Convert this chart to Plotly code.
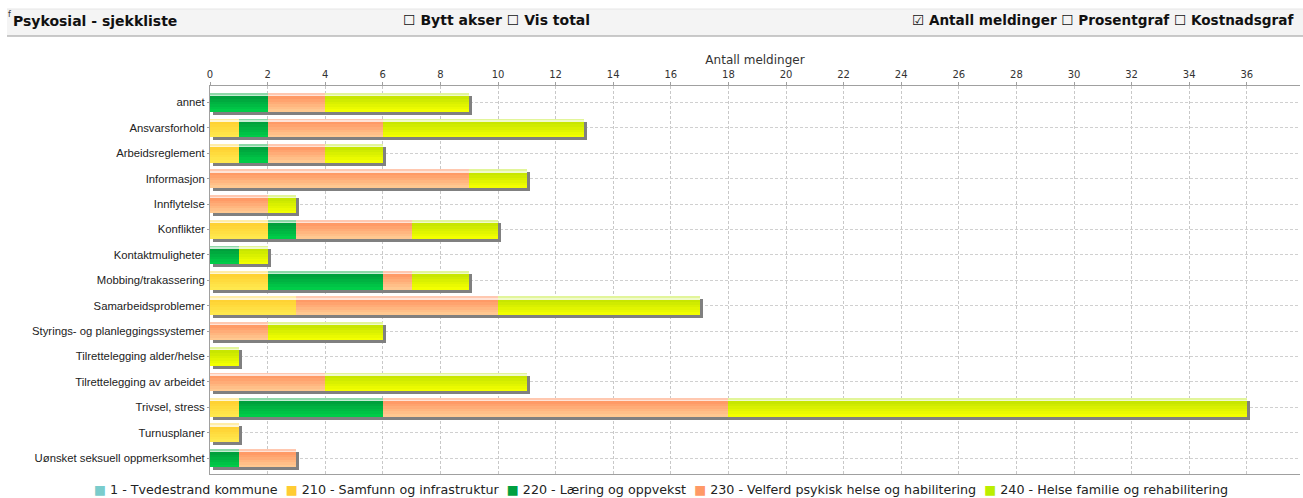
import plotly.graph_objects as go

categories = ["annet", "Ansvarsforhold", "Arbeidsreglement", "Informasjon", "Innflytelse",
              "Konflikter", "Kontaktmuligheter", "Mobbing/trakassering", "Samarbeidsproblemer",
              "Styrings- og planleggingssystemer", "Tilrettelegging alder/helse",
              "Tilrettelegging av arbeidet", "Trivsel, stress", "Turnusplaner",
              "Uønsket seksuell oppmerksomhet"]
series_names = ["1 - Tvedestrand kommune", "210 - Samfunn og infrastruktur",
                "220 - Læring og oppvekst", "230 - Velferd psykisk helse og habilitering",
                "240 - Helse familie og rehabilitering"]
v_1 =   [0, 0, 0, 0, 0, 0, 0, 0, 0, 0, 0, 0, 0, 0, 0]
v_210 = [0, 1, 1, 0, 0, 2, 0, 2, 3, 0, 0, 0, 1, 1, 0]
v_220 = [2, 1, 1, 0, 0, 1, 1, 4, 0, 0, 0, 0, 5, 0, 1]
v_230 = [2, 4, 2, 9, 2, 4, 0, 1, 7, 2, 0, 4, 12, 0, 2]
v_240 = [5, 7, 2, 2, 1, 3, 1, 2, 7, 4, 1, 7, 18, 0, 0]
x_ticks = list(range(0, 37, 2))

series_vals = [v_1, v_210, v_220, v_230, v_240]
legend_colors = ["#7ACCCC", "#FFCC33", "#00A040", "#FF9966", "#BBEE00"]
# (strip light, body top, body bottom) per series
band_colors = [
    ("#B8E6E6", "#66CCCC", "#99E0E0"),
    ("#FFEDA8", "#FFD233", "#FFE84D"),
    ("#8ED8A8", "#00A03C", "#00CC48"),
    ("#FFC8B0", "#FF9A66", "#FFC890"),
    ("#E2F59A", "#C8E600", "#F2FF00"),
]

# geometry (pixels)
L, R, T, B = 210, 1300, 86, 474
W, H = R - L, B - T
CAT_PX = 25.4
X_PER_UNIT = 28.8
BAR_PX = 18.5
n = len(categories)
y_idx = list(range(n))
c0 = 102.5
y_top = -0.5 - ((c0 - T) - CAT_PX / 2) / CAT_PX
y_bot = y_top + H / CAT_PX
x_max = W / X_PER_UNIT

def px(x):
    return (x - L) / W

def py(y):
    return (B - y) / H

def hexmix(c1, c2, t):
    a = [int(c1[i:i + 2], 16) for i in (1, 3, 5)]
    b = [int(c2[i:i + 2], 16) for i in (1, 3, 5)]
    return "#%02x%02x%02x" % tuple(round(a[k] + (b[k] - a[k]) * t) for k in range(3))

fig = go.Figure()

totals = [sum(s[i] for s in series_vals) for i in range(n)]

# shadow
fig.add_trace(go.Bar(orientation="h", y=y_idx, x=totals, base=[3 / X_PER_UNIT] * n,
                     width=BAR_PX / CAT_PX, offset=(-BAR_PX / 2 + 3) / CAT_PX,
                     marker=dict(color="#808080", line=dict(width=0)),
                     showlegend=False, hoverinfo="skip"))

cum = [0.0] * n
for si, vals in enumerate(series_vals):
    strip, btop, bbot = band_colors[si]
    bands = [(0, 2.2, strip), (2.2, 1.0, hexmix(strip, "#ffffff", 0.5))]
    nb = 6
    body_h = BAR_PX - 3.2
    for k in range(nb):
        bands.append((3.2 + k * body_h / nb, body_h / nb + 0.05, hexmix(btop, bbot, k / (nb - 1))))
    for bi, (t0, hh, col) in enumerate(bands):
        fig.add_trace(go.Bar(orientation="h", y=y_idx, x=vals, base=list(cum),
                             width=hh / CAT_PX, offset=(-BAR_PX / 2 + t0) / CAT_PX,
                             marker=dict(color=col, line=dict(width=0)),
                             name=series_names[si],
                             showlegend=False, hoverinfo="skip"))
    cum = [cum[i] + vals[i] for i in range(n)]

shapes = [
    dict(type="rect", xref="paper", yref="paper", x0=px(7), x1=px(1310), y0=py(36), y1=py(9),
         fillcolor="#F4F4F4", line=dict(width=0), layer="below"),
    dict(type="line", xref="paper", yref="paper", x0=px(7), x1=px(1310), y0=py(36), y1=py(36),
         line=dict(color="#B8B8B8", width=1.5)),
    dict(type="line", xref="paper", yref="paper", x0=px(7), x1=px(1310), y0=py(9), y1=py(9),
         line=dict(color="#E6E6E6", width=1)),
]

hfont = dict(family="DejaVu Sans", size=14, color="#111111")
legend_html = "  ".join(
    '<span style="color:%s">■</span> %s' % (c, nm) for c, nm in zip(legend_colors, series_names))
annotations = [
    dict(text="<b>Psykosial - sjekkliste</b>", xref="paper", yref="paper", x=px(11), y=py(21),
         xanchor="left", yanchor="middle", showarrow=False, font=hfont),
    dict(text="<b>☐ Bytt akser ☐ Vis total</b>", xref="paper", yref="paper", x=px(401), y=py(20),
         xanchor="left", yanchor="middle", showarrow=False, font=hfont),
    dict(text="<b>☑ Antall meldinger ☐ Prosentgraf ☐ Kostnadsgraf</b>", xref="paper", yref="paper",
         x=px(910), y=py(20), xanchor="left", yanchor="middle", showarrow=False,
         font=dict(family="DejaVu Sans", size=13.6, color="#111111")),
    dict(text="f", xref="paper", yref="paper", x=px(6), y=py(14), xanchor="left", yanchor="middle",
         showarrow=False, font=dict(family="DejaVu Sans", size=8, color="#333")),
    dict(text=legend_html, xref="paper", yref="paper", x=px(661), y=py(489),
         xanchor="center", yanchor="middle", showarrow=False,
         font=dict(family="DejaVu Sans", size=12.7, color="#222222")),
]

fig.update_layout(
    width=1303, height=498,
    margin=dict(l=L, r=1303 - R, t=T, b=498 - B),
    paper_bgcolor="white", plot_bgcolor="white",
    barmode="overlay", bargap=0, showlegend=False,
    font=dict(family="DejaVu Sans", color="#333333"),
    shapes=shapes, annotations=annotations,
    xaxis=dict(side="top", range=[0, x_max], tickvals=x_ticks, ticktext=[str(v) for v in x_ticks],
               showgrid=True, gridcolor="#C8C8C8", griddash="3px,2px", gridwidth=1,
               zeroline=False, showline=True, linecolor="#A0A0A0", linewidth=1, mirror=True,
               ticks="outside", ticklen=3, tickcolor="#A0A0A0",
               tickfont=dict(family="DejaVu Sans", size=10, color="#333333"),
               title=dict(text="Antall meldinger", font=dict(family="DejaVu Sans", size=12, color="#333333"),
                          standoff=1)),
    yaxis=dict(range=[y_bot, y_top], tickvals=y_idx, ticktext=categories,
               showgrid=True, gridcolor="#D0D0D0", griddash="3px,2px", gridwidth=1,
               zeroline=False, showline=True, linecolor="#A0A0A0", linewidth=1,
               ticks="outside", ticklen=2, tickcolor="#A0A0A0",
               tickfont=dict(family="Liberation Sans", size=11.3, color="#222222")),
)

fig.write_html("out.html", config={"displayModeBar": False},
               post_script="document.body.style.margin='0';")
